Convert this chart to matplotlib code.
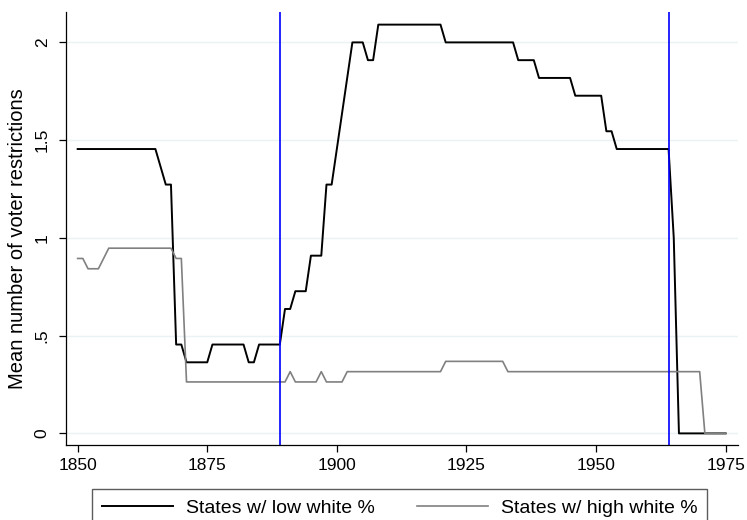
import numpy as np
import matplotlib
matplotlib.use('Agg')
import matplotlib.pyplot as plt

plt.rcParams['font.family'] = ['Liberation Sans', 'DejaVu Sans']

# ── Dados ────────────────────────────────────────────────────────
YEARS = np.arange(1850, 1976)

# número de restrições somadas por ano (11 estados "low white", 19 "high white")
N_LOW, N_HIGH = 11, 19
LOW_COUNT = [16, 16, 16, 16, 16, 16, 16, 16, 16, 16,   # 1850-1859
             16, 16, 16, 16, 16, 16, 15, 14, 14, 5,    # 1860-1869
             5, 4, 4, 4, 4, 4, 5, 5, 5, 5,             # 1870-1879
             5, 5, 5, 4, 4, 5, 5, 5, 5, 5,             # 1880-1889
             7, 7, 8, 8, 8, 10, 10, 10, 14, 14,        # 1890-1899
             16, 18, 20, 22, 22, 22, 21, 21, 23, 23,   # 1900-1909
             23, 23, 23, 23, 23, 23, 23, 23, 23, 23,   # 1910-1919
             23, 22, 22, 22, 22, 22, 22, 22, 22, 22,   # 1920-1929
             22, 22, 22, 22, 22, 21, 21, 21, 21, 20,   # 1930-1939
             20, 20, 20, 20, 20, 20, 19, 19, 19, 19,   # 1940-1949
             19, 19, 17, 17, 16, 16, 16, 16, 16, 16,   # 1950-1959
             16, 16, 16, 16, 16, 11, 0, 0, 0, 0,       # 1960-1969
             0, 0, 0, 0, 0, 0]                         # 1970-1975
HIGH_COUNT = [17, 17, 16, 16, 16, 17, 18, 18, 18, 18,  # 1850-1859
              18, 18, 18, 18, 18, 18, 18, 18, 18, 17,  # 1860-1869
              17, 5, 5, 5, 5, 5, 5, 5, 5, 5,           # 1870-1879
              5, 5, 5, 5, 5, 5, 5, 5, 5, 5,            # 1880-1889
              5, 6, 5, 5, 5, 5, 5, 6, 5, 5,            # 1890-1899
              5, 5, 6, 6, 6, 6, 6, 6, 6, 6,            # 1900-1909
              6, 6, 6, 6, 6, 6, 6, 6, 6, 6,            # 1910-1919
              6, 7, 7, 7, 7, 7, 7, 7, 7, 7,            # 1920-1929
              7, 7, 7, 6, 6, 6, 6, 6, 6, 6,            # 1930-1939
              6, 6, 6, 6, 6, 6, 6, 6, 6, 6,            # 1940-1949
              6, 6, 6, 6, 6, 6, 6, 6, 6, 6,            # 1950-1959
              6, 6, 6, 6, 6, 6, 6, 6, 6, 6,            # 1960-1969
              6, 0, 0, 0, 0, 0]                        # 1970-1975
EVENT_YEARS = [1889, 1964]

Y_TICKS = [0, 0.5, 1, 1.5, 2]
Y_TICKLABELS = ['0', '.5', '1', '1.5', '2']
X_TICKS = [1850, 1875, 1900, 1925, 1950, 1975]

low = np.array(LOW_COUNT) / N_LOW
high = np.array(HIGH_COUNT) / N_HIGH

# ── Figura ───────────────────────────────────────────────────────
fig = plt.figure(figsize=(7.47, 5.20), dpi=100)
ax = fig.add_axes([0.088, 0.144, 0.900, 0.832])

ax.plot(YEARS, low, color='black', lw=1.4, label='States w/ low white %')
ax.plot(YEARS, high, color='#808080', lw=1.2, label='States w/ high white %')
for yr in EVENT_YEARS:
    ax.axvline(yr, color='#0000ff', lw=1.2)

ax.set_xlim(1847.7, 1977.4)
ax.set_ylim(-0.06, 2.153)
ax.set_xticks(X_TICKS)
ax.set_yticks(Y_TICKS)
ax.set_yticklabels(Y_TICKLABELS, rotation=90, va='center')
ax.yaxis.grid(True, color='#eaf2f3', lw=1.0)
ax.set_axisbelow(True)
for s in ['top', 'right']:
    ax.spines[s].set_visible(False)
for s in ['left', 'bottom']:
    ax.spines[s].set_linewidth(0.9)
ax.tick_params(axis='both', labelsize=12.5, length=5, width=0.9, pad=4)
ax.tick_params(axis='y', pad=6.5)
ax.set_ylabel('Mean number of voter restrictions', fontsize=14.5)
ax.yaxis.set_label_coords(-0.057, 0.477)

# legenda em caixa abaixo do eixo (topo em y≈489 px)
fig.legend(loc='upper left', bbox_to_anchor=(92.3 / 747, 0.059),
           ncol=2, fontsize=14, frameon=True, fancybox=False,
           edgecolor='#333333', handlelength=3.65, handletextpad=0.67,
           borderaxespad=0, borderpad=0.5, columnspacing=2.16)

fig.savefig('out.png', dpi=100)
